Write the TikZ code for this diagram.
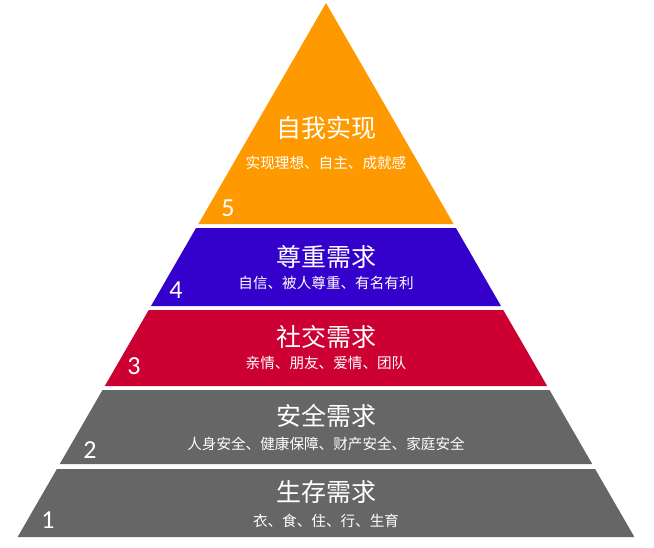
\documentclass[tikz,border=0pt]{standalone}
\usepackage{fontspec}
\usepackage{tikz}
\usetikzlibrary{calc}
\newfontfamily\cjk{Noto Sans CJK SC}
\newfontfamily\numfont{Carlito}
\definecolor{levelOrange}{RGB}{255,153,0}
\definecolor{levelBlue}{RGB}{51,0,204}
\definecolor{levelRed}{RGB}{204,0,51}
\definecolor{levelGray}{RGB}{102,102,102}
\tikzset{
  level title/.style={text=white,font=\cjk\fontsize{25}{30}\selectfont,inner sep=0pt},
  level desc/.style={text=white,font=\cjk\fontsize{14.6}{17}\selectfont,inner sep=0pt},
  level num/.style={text=white,font=\numfont\fontsize{26}{30}\selectfont,inner sep=0pt}
}

\begin{document}
\begin{tikzpicture}[x=1pt,y=-1pt]
        \fill[white] (0,0) rectangle (654,547);
        % pyramid layers cut from one triangle, apex (326,3)
        \foreach \yt/\yb/\col in {3/224/levelOrange,228/306/levelBlue,310/386/levelRed,390/464/levelGray,469/537/levelGray}{
          \pgfmathsetmacro\dt{0.5775*(\yt-3)}
          \pgfmathsetmacro\db{0.5775*(\yb-3)}
          \fill[\col] (326-\dt,\yt) -- (326+\dt,\yt) -- (326+\db,\yb) -- (326-\db,\yb) -- cycle;
        }
        \node[level title] (title5) at (326,128) {自我实现};
        \node[level desc] (desc5) at (326,163) {实现理想、自主、成就感};
        \node[level num] (num5) at (228,208) {5};
        \node[level title] (title4) at (326,257) {尊重需求};
        \node[level desc] (desc4) at (326,283) {自信、被人尊重、有名有利};
        \node[level num] (num4) at (176,290) {4};
        \node[level title] (title3) at (326,337) {社交需求};
        \node[level desc] (desc3) at (326,363) {亲情、朋友、爱情、团队};
        \node[level num] (num3) at (134,366) {3};
        \node[level title] (title2) at (326,416) {安全需求};
        \node[level desc] (desc2) at (326,444) {人身安全、健康保障、财产安全、家庭安全};
        \node[level num] (num2) at (90,450) {2};
        \node[level title] (title1) at (326,492) {生存需求};
        \node[level desc] (desc1) at (326,521) {衣、食、住、行、生育};
        \node[level num] (num1) at (48,520) {1};
      \end{tikzpicture}
\end{document}
